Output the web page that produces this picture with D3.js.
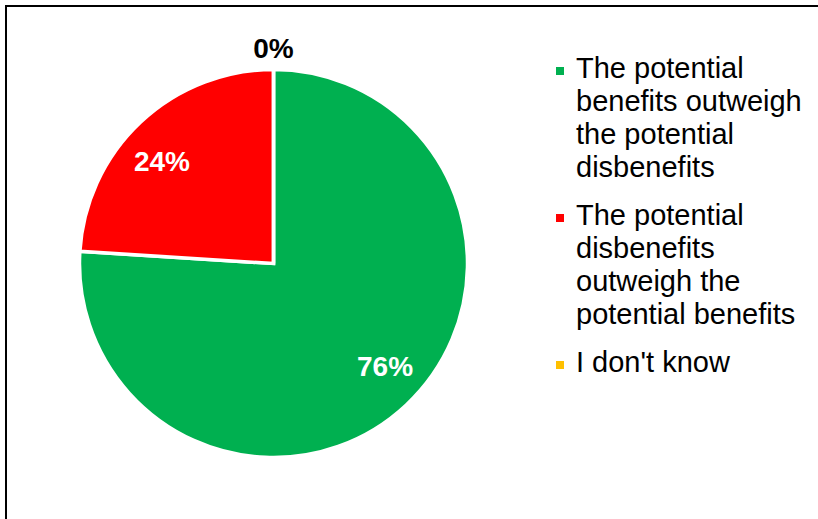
<!DOCTYPE html>
<html>
<head>
<meta charset="utf-8">
<script src="https://cdn.jsdelivr.net/npm/d3@7"></script>
<style>
  html, body { margin: 0; padding: 0; background: #fff; }
  svg { display: block; font-family: "Liberation Sans", Arial, sans-serif; }
</style>
</head>
<body>
<svg id="chart" width="818" height="519"></svg>
<script>
const categories = [
  "The potential benefits outweigh the potential disbenefits",
  "The potential disbenefits outweigh the potential benefits",
  "I don't know"
];
const values = [76, 24, 0];
const labels = ["76%", "24%", "0%"];
const colors = ["#00B050", "#FF0000", "#FFC000"];

const svg = d3.select("#chart");
const W = 818, H = 519;

svg.append("rect").attr("x", 0).attr("y", 0).attr("width", W).attr("height", H).attr("fill", "#fff");
// chart border
svg.append("rect")
  .attr("x", 6).attr("y", 6).attr("width", 840).attr("height", 540)
  .attr("fill", "none").attr("stroke", "#000").attr("stroke-width", 2);

const cx = 273.5, cy = 263.5, R = 194;
const g = svg.append("g").attr("transform", `translate(${cx},${cy})`);

const pie = d3.pie().sort(null).value(d => d)(values);
const arc = d3.arc().innerRadius(0).outerRadius(R);
const labelR = 151.5, labelShift = -4.2 * Math.PI / 180;
const outerArc = d3.arc().innerRadius(R + 22).outerRadius(R + 22);

g.selectAll("path.slice").data(pie).join("path")
  .attr("class", "slice")
  .attr("d", arc)
  .attr("fill", (d, i) => colors[i])
  .attr("stroke", "#fff")
  .attr("stroke-width", 3.5)
  .attr("stroke-linejoin", "miter");

const tiny = d => (d.endAngle - d.startAngle) < 0.05;
g.selectAll("text.lbl").data(pie).join("text")
  .attr("class", "lbl")
  .attr("transform", d => {
    let p;
    if (tiny(d)) p = outerArc.centroid(d);
    else {
      const a = (d.startAngle + d.endAngle) / 2 + labelShift;
      p = [labelR * Math.sin(a), -labelR * Math.cos(a)];
    }
    return `translate(${p[0]},${p[1]})`;
  })
  .attr("text-anchor", "middle")
  .attr("dy", "0.36em")
  .attr("font-size", 28)
  .attr("font-weight", "bold")
  .attr("fill", d => tiny(d) ? "#000" : "#fff")
  .text((d, i) => labels[i]);

// legend
const legend = svg.append("g");
const lx = 576, lineH = 33, entryGap = 15, fs = 29, maxW = 232;
let y = 78;
categories.forEach((cat, i) => {
  legend.append("rect")
    .attr("x", 556).attr("y", y - 11).attr("width", 8).attr("height", 8)
    .attr("fill", colors[i]);
  const t = legend.append("text")
    .attr("x", lx).attr("y", y)
    .attr("font-size", fs).attr("fill", "#000");
  const words = cat.split(" ");
  let line = [], tspan = t.append("tspan").attr("x", lx).attr("y", y);
  let lineCount = 1;
  words.forEach(w => {
    line.push(w);
    tspan.text(line.join(" "));
    if (tspan.node().getComputedTextLength() > maxW && line.length > 1) {
      line.pop();
      tspan.text(line.join(" "));
      line = [w];
      tspan = t.append("tspan").attr("x", lx).attr("y", y + lineCount * lineH).text(w);
      lineCount++;
    }
  });
  y += lineCount * lineH + entryGap;
});
</script>
</body>
</html>
